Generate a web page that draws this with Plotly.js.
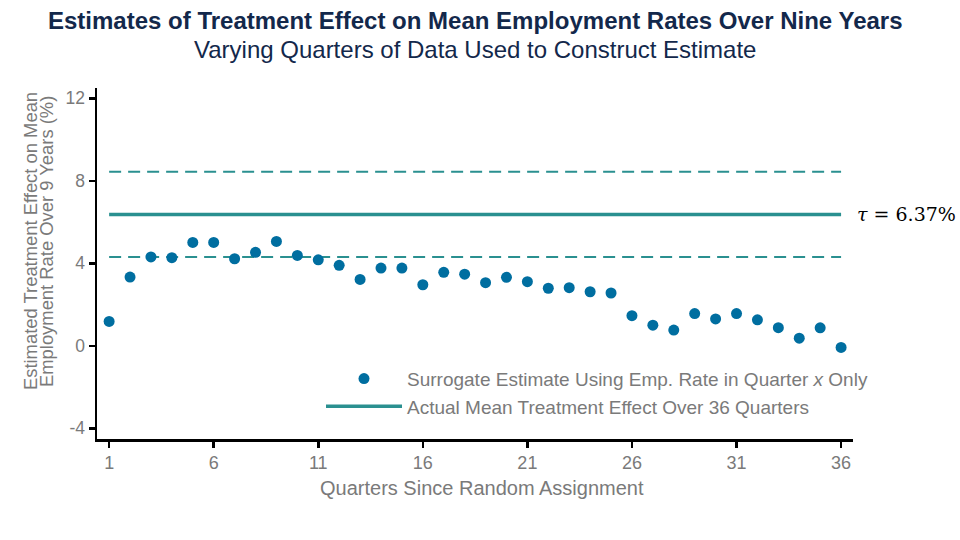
<!DOCTYPE html>
<html>
<head>
<meta charset="utf-8">
<script src="https://cdn.plot.ly/plotly-3.0.1.min.js"></script>
<style>html,body{margin:0;padding:0;background:#fff;}#chart{width:960px;height:540px;}</style>
</head>
<body>
<div id="chart"></div>
<script>
var quarters = [1,2,3,4,5,6,7,8,9,10,11,12,13,14,15,16,17,18,19,20,21,22,23,24,25,26,27,28,29,30,31,32,33,34,35,36];
var surrogateEstimates = [1.18,3.33,4.31,4.27,5.01,5.01,4.22,4.53,5.06,4.38,4.17,3.90,3.22,3.77,3.77,2.96,3.56,3.47,3.06,3.32,3.11,2.79,2.82,2.62,2.56,1.46,1.00,0.76,1.56,1.30,1.56,1.26,0.88,0.37,0.87,-0.08];
var actualEffect = 6.37;
var ciLower = 4.30;
var ciUpper = 8.44;
var lineSpan = [1, 36];
var xTicks = [1,6,11,16,21,26,31,36];
var yTicks = [-4,0,4,8,12];

var teal = '#2a9090';
var blue = '#006ea0';
var gray = '#7a7a7a';
var navy = '#13284b';

var traces = [
  {x: lineSpan, y: [ciUpper, ciUpper], type: 'scatter', mode: 'lines', showlegend: false, hoverinfo: 'skip',
   line: {color: teal, width: 2, dash: '12px,7px'}},
  {x: lineSpan, y: [ciLower, ciLower], type: 'scatter', mode: 'lines', showlegend: false, hoverinfo: 'skip',
   line: {color: teal, width: 2, dash: '12px,7px'}},
  {x: quarters, y: surrogateEstimates, type: 'scatter', mode: 'markers',
   name: 'Surrogate Estimate Using Emp. Rate in Quarter <i>x</i> Only',
   marker: {color: blue, size: 11}},
  {x: lineSpan, y: [actualEffect, actualEffect], type: 'scatter', mode: 'lines',
   name: 'Actual Mean Treatment Effect Over 36 Quarters',
   line: {color: teal, width: 3.5}}
];

var layout = {
  width: 960, height: 540,
  margin: {l: 97, r: 107, t: 88, b: 101},
  paper_bgcolor: '#fff', plot_bgcolor: '#fff',
  font: {family: 'Liberation Sans, Arial, sans-serif', color: gray},
  xaxis: {
    range: [0.42, 36.57], tickvals: xTicks, ticktext: xTicks.map(String),
    showgrid: false, zeroline: false, showline: true, linecolor: '#000', linewidth: 2.5,
    ticks: 'outside', ticklen: 6, tickwidth: 2.5, tickcolor: '#000',
    tickfont: {size: 18, color: gray}
  },
  yaxis: {
    range: [-4.52, 12.5], tickvals: yTicks, ticktext: yTicks.map(String),
    showgrid: false, zeroline: false, showline: true, linecolor: '#000', linewidth: 2.5,
    ticks: 'outside', ticklen: 6, tickwidth: 2.5, tickcolor: '#000',
    tickfont: {size: 17.5, color: gray}
  },
  legend: {
    x: 0.2963, y: 0.226, xanchor: 'left', yanchor: 'top',
    bgcolor: 'rgba(0,0,0,0)', font: {size: 19, color: gray},
    itemwidth: 76, tracegroupgap: 0
  },
  annotations: [
    {xref: 'paper', yref: 'paper', x: 0.5, y: 1.191, xanchor: 'center', yanchor: 'middle', showarrow: false,
     text: '<b>Estimates of Treatment Effect on Mean Employment Rates Over Nine Years</b>',
     font: {size: 24, color: navy}},
    {xref: 'paper', yref: 'paper', x: 0.5, y: 1.111, xanchor: 'center', yanchor: 'middle', showarrow: false,
     text: 'Varying Quarters of Data Used to Construct Estimate',
     font: {size: 24, color: navy}},
    {xref: 'paper', yref: 'paper', x: 0.509, y: -0.1396, xanchor: 'center', yanchor: 'middle', showarrow: false,
     text: 'Quarters Since Random Assignment',
     font: {size: 20, color: gray}},
    {xref: 'paper', yref: 'paper', x: -0.0886, y: 0.564, xanchor: 'center', yanchor: 'middle',
     textangle: -90, showarrow: false,
     text: 'Estimated Treatment Effect on Mean',
     font: {size: 18.4, color: gray}},
    {xref: 'paper', yref: 'paper', x: -0.0675, y: 0.564, xanchor: 'center', yanchor: 'middle',
     textangle: -90, showarrow: false,
     text: 'Employment Rate Over 9 Years (%)',
     font: {size: 18.4, color: gray}},
    {xref: 'paper', yref: 'y', x: 1.003, y: actualEffect, xanchor: 'left', yanchor: 'middle',
     showarrow: false, text: '<i>τ</i> = 6.37%',
     font: {family: 'DejaVu Serif, Liberation Serif, serif', size: 19, color: '#000'}}
  ]
};

Plotly.newPlot('chart', traces, layout, {displayModeBar: false, staticPlot: true});
</script>
</body>
</html>
